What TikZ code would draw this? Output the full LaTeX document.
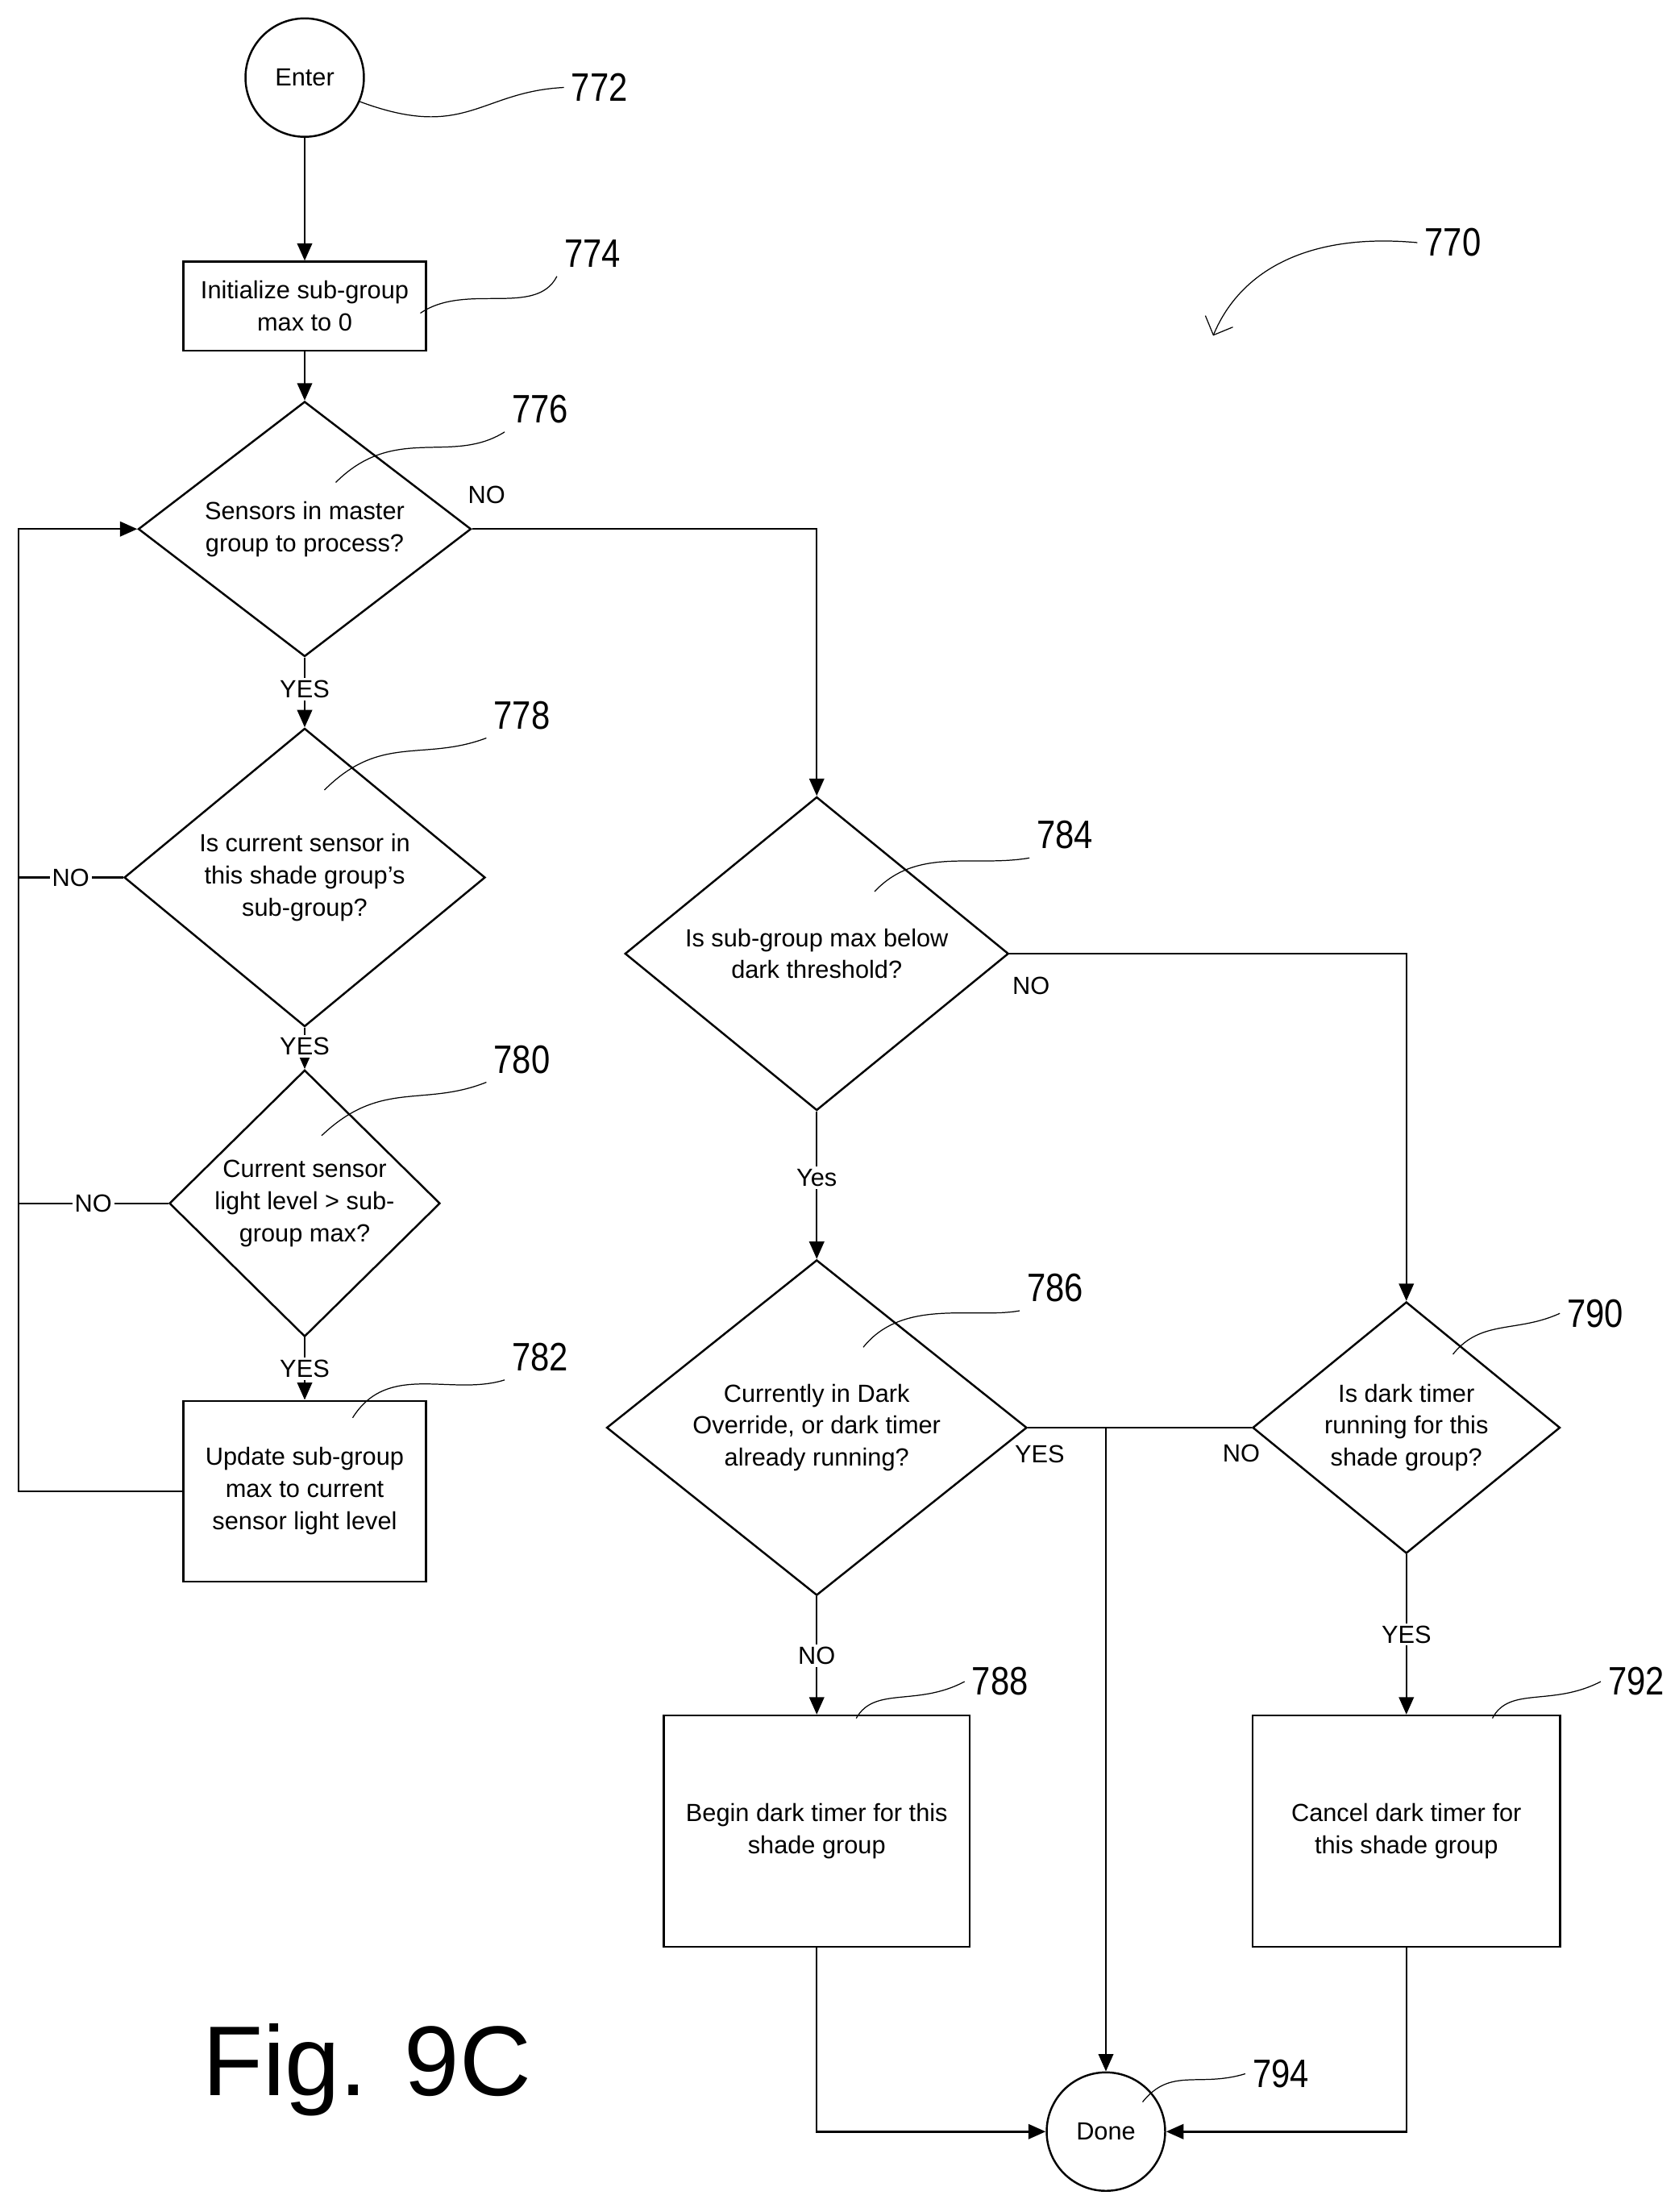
\documentclass[tikz,border=0pt]{standalone}
\usepackage{fontspec}
\setmainfont{Liberation Sans}
\usetikzlibrary{shapes.geometric,arrows.meta}
\tikzset{
  box/.style={draw,thick,rectangle,align=center,inner sep=0pt,font=\fontsize{10}{13}\selectfont},
  dia/.style={draw,thick,diamond,align=center,inner sep=0pt,font=\fontsize{10}{13}\selectfont},
  term/.style={draw,thick,circle,minimum size=1.68cm,inner sep=0pt,font=\fontsize{10}{13}\selectfont},
  num/.style={font=\fontsize{16}{18}\selectfont,xscale=0.85},
  lbl/.style={fill=white,inner sep=1pt,font=\fontsize{10}{12}\selectfont},
  flow/.style={thick,-{Triangle[length=7pt,width=6pt]}},
  lead/.style={thin}
}
\begin{document}
\begin{tikzpicture}[x=0.02cm,y=-0.02cm]
	\useasboundingbox (0,0) rectangle (1190,1568);
	% terminals
	\node[term] (enter) at (216,55) {Enter};
	\node[term] (done) at (784,1511) {Done};
	% boxes
	\node[box,minimum width=3.44cm,minimum height=1.26cm] (init) at (216,217) {Initialize sub-group\\max to 0};
	\node[box,minimum width=3.44cm,minimum height=2.56cm] (update) at (216,1057) {Update sub-group\\max to current\\sensor light level};
	\node[box,minimum width=4.34cm,minimum height=3.28cm] (begin) at (579,1298) {Begin dark timer for this\\shade group};
	\node[box,minimum width=4.36cm,minimum height=3.28cm] (cancel) at (997,1298) {Cancel dark timer for\\this shade group};
	% decisions
	\node[dia,minimum width=4.72cm,minimum height=3.52cm] (master) at (216,375) {Sensors in master\\group to process?};
	\node[dia,minimum width=5.12cm,minimum height=3.64cm] (insub) at (216,622) {Is current sensor in\\this shade group's\\sub-group?};
	\node[dia,minimum width=3.84cm,minimum height=2.88cm] (level) at (216,853) {Current sensor\\light level > sub-\\group max?};
	\node[dia,minimum width=5.44cm,minimum height=4.32cm] (below) at (579,676) {Is sub-group max below\\dark threshold?};
	\node[dia,minimum width=5.96cm,minimum height=4.48cm] (override) at (579,1012) {Currently in Dark\\Override, or dark timer\\already running?};
	\node[dia,minimum width=4.36cm,minimum height=3.24cm] (running) at (997,1012) {Is dark timer\\running for this\\shade group?};
	% helper points
	\coordinate (loop) at (13,1057);
	\coordinate (join) at (784,1012);
	% main flow
	\draw[flow] (enter) -- (init);
	\draw[flow] (init) -- (master);
	\draw[flow] (master) -- node[lbl,pos=0.45]{YES} (insub);
	\draw[flow] (insub) -- node[lbl,pos=0.45]{YES} (level);
	\draw[flow] (level) -- node[lbl,pos=0.5]{YES} (update);
	\draw[flow] (update.west) -- (loop) |- (master.west);
	\draw[thick] (insub.west) -- node[lbl,pos=0.5]{NO} (13,622);
	\draw[thick] (level.west) -- node[lbl,pos=0.5]{NO} (13,853);
	\draw[flow] (master.east) -| (below.north);
	\node[font=\fontsize{10}{12}\selectfont] at (345,351) {NO};
	\draw[flow] (below) -- node[lbl,pos=0.45]{Yes} (override);
	\draw[flow] (below.east) -| (running.north);
	\node[font=\fontsize{10}{12}\selectfont] at (731,699) {NO};
	\draw[flow] (override) -- node[lbl,pos=0.5]{NO} (begin);
	\draw[thick] (override.east) -- (join);
	\node[font=\fontsize{10}{12}\selectfont] at (737,1031) {YES};
	\draw[thick] (running.west) -- (join);
	\node[font=\fontsize{10}{12}\selectfont] at (880,1030) {NO};
	\draw[flow] (join) -- (done);
	\draw[flow] (running) -- node[lbl,pos=0.5]{YES} (cancel);
	\draw[flow] (begin.south) |- (done.west);
	\draw[flow] (cancel.south) |- (done.east);
	% reference numerals
	\node[num] (n772) at (425,62) {772};
	\node[num] (n774) at (420,180) {774};
	\node[num] (n776) at (383,290) {776};
	\node[num] (n778) at (370,507) {778};
	\node[num] (n780) at (370,751) {780};
	\node[num] (n782) at (383,962) {782};
	\node[num] (n784) at (755,592) {784};
	\node[num] (n786) at (748,913) {786};
	\node[num] (n788) at (709,1192) {788};
	\node[num] (n790) at (1131,931) {790};
	\node[num] (n792) at (1160,1192) {792};
	\node[num] (n794) at (908,1470) {794};
	\node[num] (n770) at (1030,172) {770};
	% leaders
	\draw[lead] (255,72) .. controls (330,100) and (340,65) .. (n772.west);
	\draw[lead] (298,222) .. controls (330,200) and (380,225) .. (n774.south west);
	\draw[lead] (238,342) .. controls (280,300) and (320,330) .. (n776.south west);
	\draw[lead] (230,560) .. controls (270,520) and (300,540) .. (n778.south west);
	\draw[lead] (228,805) .. controls (270,765) and (300,785) .. (n780.south west);
	\draw[lead] (250,1005) .. controls (275,965) and (320,990) .. (n782.south west);
	\draw[lead] (620,632) .. controls (650,600) and (690,615) .. (n784.south west);
	\draw[lead] (612,955) .. controls (640,920) and (690,935) .. (n786.south west);
	\draw[lead] (607,1218) .. controls (620,1195) and (650,1210) .. (n788.west);
	\draw[lead] (1030,960) .. controls (1050,935) and (1075,945) .. (n790.west);
	\draw[lead] (1058,1218) .. controls (1070,1195) and (1100,1210) .. (n792.west);
	\draw[lead] (810,1490) .. controls (830,1465) and (850,1480) .. (n794.west);
	\draw[lead,-{Straight Barb[length=6pt]}] (n770.west) .. controls (930,165) and (880,190) .. (860,238);
	% caption
	\node[font=\fontsize{40}{44}\selectfont] (cap) at (260,1467) {Fig. 9C};
\end{tikzpicture}
\end{document}
